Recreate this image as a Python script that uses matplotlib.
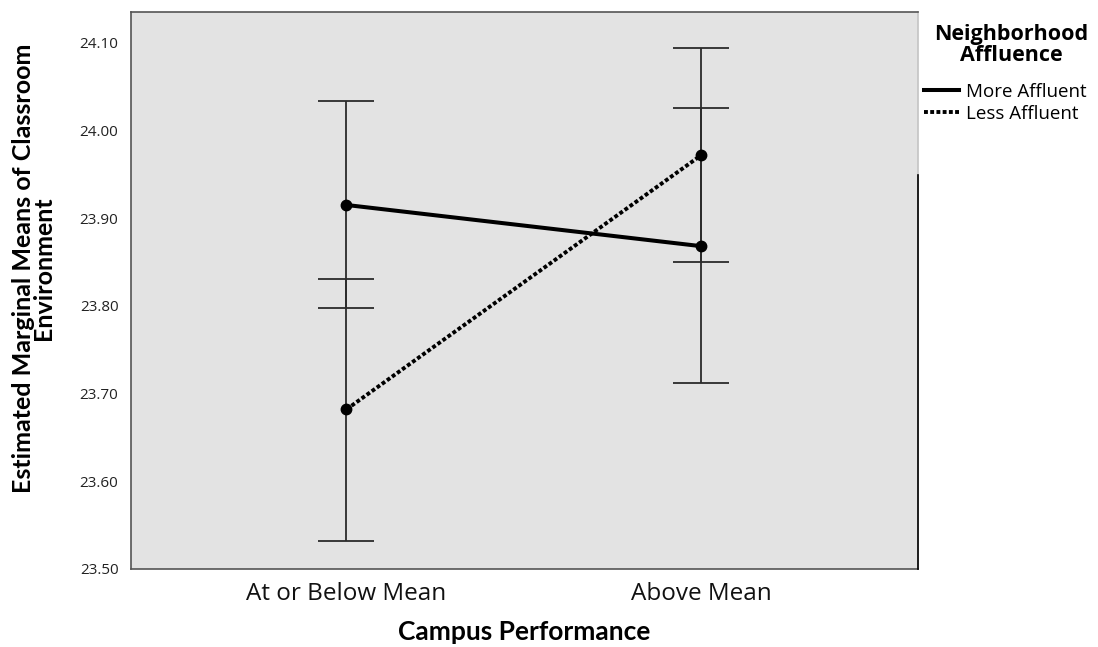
import matplotlib.pyplot as plt
from matplotlib.lines import Line2D
import numpy as np

# estimated marginal means with 95% CI bounds
categories = ['At or Below Mean', 'Above Mean']
more_mean = [23.915, 23.868]
more_low = [23.798, 23.712]
more_high = [24.033, 24.025]
less_mean = [23.682, 23.972]
less_low = [23.532, 23.850]
less_high = [23.831, 24.094]
yticks = [23.50, 23.60, 23.70, 23.80, 23.90, 24.00, 24.10]

plt.rcParams['font.family'] = ['Open Sans', 'DejaVu Sans']
bold_font = ['Lato', 'DejaVu Sans']

fig = plt.figure(figsize=(10.98, 6.47), dpi=100)
ax = fig.add_axes([131 / 1098, 1 - 569 / 647, 787 / 1098, 557 / 647])
ax.set_facecolor('#e3e3e3')

x = np.arange(len(categories))

def draw_series(mean, low, high, style, lw):
    mean = np.array(mean)
    err = [mean - np.array(low), np.array(high) - mean]
    ax.errorbar(x, mean, yerr=err, fmt='none', ecolor='#2b2b2b',
                elinewidth=1.3, capsize=20, capthick=1.3, zorder=2)
    ax.plot(x, mean, color='black', linestyle=style, linewidth=lw,
            marker='o', markersize=7.5, zorder=3)

draw_series(more_mean, more_low, more_high, '-', 2.9)
draw_series(less_mean, less_low, less_high, (0, (1, 0.6)), 2.8)

ax.set_xlim(-0.607, 1.61)
ax.set_ylim(23.50, 24.135)
ax.set_yticks(yticks)
ax.set_yticklabels([f'{v:.2f}' for v in yticks], fontsize=11, color='#222222')
ax.set_xticks(x)
ax.set_xticklabels(categories, fontsize=17.5, color='#111111')
ax.tick_params(axis='both', length=0)
ax.tick_params(axis='y', pad=9)
ax.tick_params(axis='x', pad=9)

for s in ax.spines.values():
    s.set_color('#555555')
    s.set_linewidth(1.2)
ax.spines['right'].set_color('#c4c4c4')
# darker lower part of the right frame edge
ax.plot([1, 1], [0, 0.707], transform=ax.transAxes, color='black',
        linewidth=1.2, clip_on=False, zorder=5)

ax.set_ylabel('Estimated Marginal Means of Classroom\nEnvironment',
              fontsize=18, fontweight='bold', family=bold_font,
              linespacing=0.8)
ax.yaxis.set_label_coords(-0.097, 0.54)
ax.set_xlabel('Campus Performance', fontsize=19, fontweight='bold',
              family=bold_font, va='center')
ax.xaxis.set_label_coords(0.5, -0.113)

# legend title drawn as its own text block, entries below it
fig.text(1011 / 1098, 1 - 45 / 647, 'Neighborhood\nAffluence', ha='center',
         va='center', fontsize=15.5, fontweight='bold', linespacing=1.02,
         multialignment='center')
handles = [Line2D([], [], color='black', linewidth=2.9, linestyle='-'),
           Line2D([], [], color='black', linewidth=2.8, linestyle=(0, (1, 0.6)))]
leg = fig.legend(handles, ['More Affluent', 'Less Affluent'], loc='upper left',
                 bbox_to_anchor=(924 / 1098, 1 - 83 / 647), frameon=False,
                 fontsize=13.5, handlelength=1.85, handletextpad=0.4,
                 labelspacing=0.2, borderaxespad=0, borderpad=0)

fig.savefig('out.png', dpi=100)
